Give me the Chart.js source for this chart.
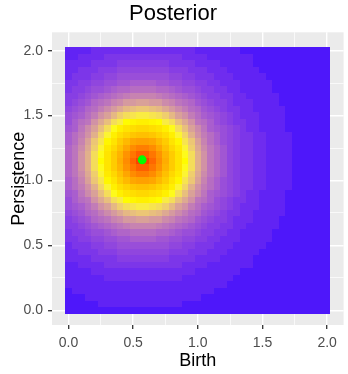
<!DOCTYPE html>
<html>
<head>
<meta charset="utf-8">
<script src="https://cdn.jsdelivr.net/npm/chart.js@4"></script>
<style>
	html, body { margin: 0; padding: 0; background: #ffffff; }
</style>
</head>
<body>
<canvas id="posterior-chart" width="348" height="374"></canvas>
<script>
"use strict";

// centre of each tile column (Birth) and tile row (Persistence, top row first)
const birthCells = [0.00, 0.05, 0.10, 0.15, 0.20, 0.25, 0.30, 0.35, 0.40, 0.45, 0.50, 0.55, 0.60, 0.65, 0.70, 0.75, 0.80, 0.85, 0.90, 0.95, 1.00,
	1.05, 1.10, 1.15, 1.20, 1.25, 1.30, 1.35, 1.40, 1.45, 1.50, 1.55, 1.60, 1.65, 1.70, 1.75, 1.80, 1.85, 1.90, 1.95, 2.00];
const persistenceCells = [2.00, 1.95, 1.90, 1.85, 1.80, 1.75, 1.70, 1.65, 1.60, 1.55, 1.50, 1.45, 1.40, 1.35, 1.30, 1.25, 1.20, 1.15, 1.10, 1.05, 1.00,
	0.95, 0.90, 0.85, 0.80, 0.75, 0.70, 0.65, 0.60, 0.55, 0.50, 0.45, 0.40, 0.35, 0.30, 0.25, 0.20, 0.15, 0.10, 0.05, 0.00];

// posterior level of each tile: one character per tile, 0 (low) .. Z (high)
const levelDigits = "0123456789abcdefghijklmnopqrstuvwxyzABCDEFGHIJKLMNOPQRSTUVWXYZ";
const levelRows = [
	"22223333333333333333222222211111111111111",
	"22333344444444444433332222222111111111111",
	"33334444555555554444333322222111111111111",
	"33444555666666665554443332222211111111111",
	"34445566777777776655444333222221111111111",
	"44556677889999887766554433322222111111111",
	"45567789aabbbbaa9877655443322222111111111",
	"556789abcdeeeedcba98765544332222211111111",
	"5678abcefhhiihhfecba876554333222211111111",
	"678abdfhjlmnnmljhfdba87654433222221111111",
	"789bdgiloqrssrqoligdb98765433322221111111",
	"79bcgjmqsvwxxwvsqmjgcb9765443322221111111",
	"89cfimquxzABBAzxuqmifc9876543322221111111",
	"9bdgkptxACEFFECAxtpkgdb976544332222111111",
	"9beinrwzDGJKKJGDzwrnieb976544332222111111",
	"acfjotyBFJNPPNJFBytojfca86544332222111111",
	"acgkquzDHMQTTQMHDzuqkgca86544332222111111",
	"acgkqvzDINSWWSNIDzvqkgca86544332222111111",
	"acgkquzDHMQTTQMHDzuqkgca86544332222111111",
	"acfjotyBFJNPPNJFBytojfca86544332222111111",
	"9beinrwzDGJKKJGDzwrnieb976544332222111111",
	"9bdgkptxACEFFECAxtpkgdb976544332222111111",
	"89cfimquxzABBAzxuqmifc9876543322221111111",
	"79bcgjmqsvwxxwvsqmjgcb9765443322221111111",
	"789bdgiloqrssrqoligdb98765433322221111111",
	"678abdfhjlmnnmljhfdba87654433222221111111",
	"5678abcefhhiihhfecba876554333222211111111",
	"556789abcdeeeedcba98765544332222211111111",
	"45567789aabbbbaa9877655443322222111111111",
	"44556677889999887766554433322222111111111",
	"34445566777777776655444333222221111111111",
	"33444555666666665554443332222211111111111",
	"33334444555555554444333322222111111111111",
	"22333344444444444433332222222111111111111",
	"22223333333333333333222222211111111111111",
	"22222233333333333322222222111111111111111",
	"22222222222222222222222221111111111111111",
	"12222222222222222222222111111111111111111",
	"11122222222222222222211111111111111111111",
	"11111222222222222211111111111111111111111",
	"11111111111111111111111111111111111111111"
];

// the marked point
const pointBirth = [0.57];
const pointPersistence = [1.16];

// axes
const gridValues = [0, 0.25, 0.5, 0.75, 1, 1.25, 1.5, 1.75, 2];
const tickValues = [0, 0.5, 1, 1.5, 2];
const tickLabels = ["0.0", "0.5", "1.0", "1.5", "2.0"];

const fontFamily = "'Liberation Sans', Arial, sans-serif";
const cellHalf = 0.025;
const lowColor = "#3406FF";
const midColor = "#FFFF00";
const highColor = "#FF0000";


function hexToLab(hex) {
	const n = parseInt(hex.slice(1), 16);
	const lin = [(n >> 16) & 255, (n >> 8) & 255, n & 255].map(v => {
		v /= 255;
		return v <= 0.04045 ? v / 12.92 : Math.pow((v + 0.055) / 1.055, 2.4);
	});
	const X = (0.4124 * lin[0] + 0.3576 * lin[1] + 0.1805 * lin[2]) / 0.95047;
	const Y = 0.2126 * lin[0] + 0.7152 * lin[1] + 0.0722 * lin[2];
	const Z = (0.0193 * lin[0] + 0.1192 * lin[1] + 0.9505 * lin[2]) / 1.08883;
	const f = t => t > 0.008856 ? Math.cbrt(t) : 7.787 * t + 16 / 116;
	return [116 * f(Y) - 16, 500 * (f(X) - f(Y)), 200 * (f(Y) - f(Z))];
}

function labToRgb(lab) {
	const fy = (lab[0] + 16) / 116;
	const fx = fy + lab[1] / 500;
	const fz = fy - lab[2] / 200;
	const inv = t => t * t * t > 0.008856 ? t * t * t : (t - 16 / 116) / 7.787;
	const X = inv(fx) * 0.95047, Y = inv(fy), Z = inv(fz) * 1.08883;
	const lin = [
		3.2406 * X - 1.5372 * Y - 0.4986 * Z,
		-0.9689 * X + 1.8758 * Y + 0.0415 * Z,
		0.0557 * X - 0.2040 * Y + 1.0570 * Z
	];
	const rgb = lin.map(v => {
		v = Math.min(1, Math.max(0, v));
		v = v <= 0.0031308 ? 12.92 * v : 1.055 * Math.pow(v, 1 / 2.4) - 0.055;
		return Math.round(v * 255);
	});
	return `rgb(${rgb.join(",")})`;
}

const stops = [hexToLab(lowColor), hexToLab(midColor), hexToLab(highColor)];
const maxLevel = levelDigits.length - 1;

function levelColor(level) {
	const t = level / maxLevel;
	const from = t < 0.5 ? stops[0] : stops[1];
	const to = t < 0.5 ? stops[1] : stops[2];
	const s = t < 0.5 ? t * 2 : (t - 0.5) * 2;
	return labToRgb(from.map((v, k) => v + (to[k] - v) * s));
}


const cells = [];
persistenceCells.forEach((yValue, row) => {
	birthCells.forEach((xValue, col) => {
		const level = levelDigits.indexOf(levelRows[row][col]);
		if (level >= 0) cells.push({x: xValue, y: yValue, level: level});
	});
});

const points = pointBirth.map((b, k) => ({x: b, y: pointPersistence[k]}));


const heatTiles = {
	id: "heatTiles",
	beforeDraw(chart) {
		const {ctx, chartArea: area} = chart;
		ctx.save();
		ctx.fillStyle = "#EBEBEB";
		ctx.fillRect(area.left, area.top, area.right - area.left, area.bottom - area.top);
		ctx.restore();
	},
	beforeDatasetsDraw(chart) {
		const {ctx, scales: {x, y}} = chart;
		const colors = {};
		ctx.save();
		for (const cell of chart.data.datasets[0].data) {
			const left = Math.round(x.getPixelForValue(cell.x - cellHalf));
			const right = Math.round(x.getPixelForValue(cell.x + cellHalf));
			const top = Math.round(y.getPixelForValue(cell.y + cellHalf));
			const bottom = Math.round(y.getPixelForValue(cell.y - cellHalf));
			if (!colors[cell.level]) colors[cell.level] = levelColor(cell.level);
			ctx.fillStyle = colors[cell.level];
			ctx.fillRect(left, top, right - left, bottom - top);
		}
		ctx.restore();
	}
};

function isMajor(ctx) {
	return ctx.tick && tickValues.includes(ctx.tick.value);
}

function axisOptions(range, titleText, titlePadding, tickPadding, fit) {
	return {
		type: "linear",
		min: range[0],
		max: range[1],
		afterBuildTicks: scale => { scale.ticks = gridValues.map(v => ({value: v})); },
		afterFit: fit,
		border: { display: false },
		grid: {
			color: "#FFFFFF",
			lineWidth: ctx => isMajor(ctx) ? 1.4 : 0.7,
			tickColor: ctx => isMajor(ctx) ? "#333333" : "rgba(0,0,0,0)",
			tickWidth: 1.3,
			tickLength: 4
		},
		ticks: {
			autoSkip: false,
			maxRotation: 0,
			padding: tickPadding,
			color: "#4D4D4D",
			font: { family: fontFamily, size: 14 },
			callback: value => {
				const k = tickValues.indexOf(value);
				return k >= 0 ? tickLabels[k] : "";
			}
		},
		title: {
			display: true,
			text: titleText,
			color: "#000000",
			padding: titlePadding,
			font: { family: fontFamily, size: 18 }
		}
	};
}


const ctx = document.querySelector("#posterior-chart").getContext("2d");
new Chart(ctx, {
	type: "scatter",
	data: {
		datasets: [{
			label: "Posterior",
			data: cells,
			pointRadius: 0,
			pointHoverRadius: 0
		}, {
			label: "Point",
			data: points,
			pointRadius: 4.4,
			pointHoverRadius: 4.4,
			backgroundColor: "#00FF00",
			borderColor: "#00FF00",
			borderWidth: 0
		}]
	},
	options: {
		responsive: false,
		devicePixelRatio: 1,
		animation: false,
		layout: { padding: { left: 0, right: 2, top: 0, bottom: 0 } },
		scales: {
			x: axisOptions([-0.1275, 2.1275], "Birth", {top: 0, bottom: 2}, 6, scale => { scale.height = 49; }),
			y: axisOptions([-0.113, 2.142], "Persistence", {top: 8, bottom: 0}, 5, scale => { scale.width = 52; })
		},
		plugins: {
			legend: { display: false },
			tooltip: { enabled: false },
			title: {
				display: true,
				text: "Posterior",
				color: "#000000",
				font: { family: fontFamily, size: 22, weight: "normal" },
				padding: { top: 1, bottom: 4.9 }
			}
		}
	},
	plugins: [heatTiles]
});
</script>
</body>
</html>
